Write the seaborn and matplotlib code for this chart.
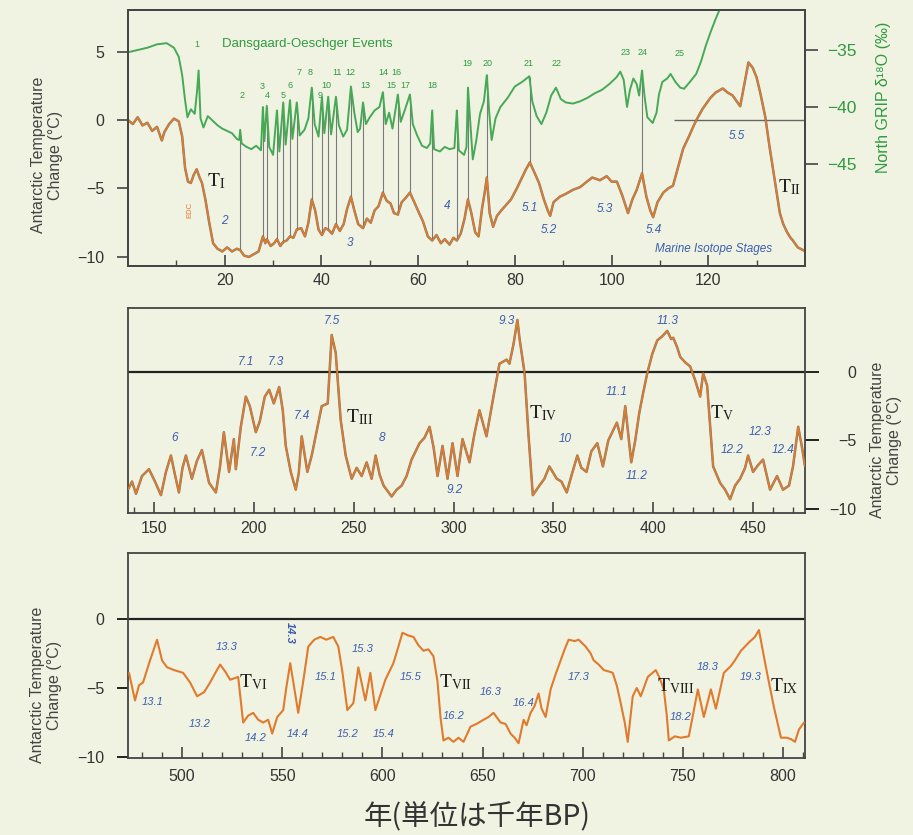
import matplotlib
matplotlib.use("Agg")
import matplotlib.pyplot as plt
from matplotlib.ticker import MultipleLocator, FixedLocator
import pandas as pd
import seaborn as sns

# ---------------- data ----------------
# Panel 1: EPICA Antarctic temperature (0-140 kyr BP)
p1_age = [0, 1, 2, 3, 4, 5, 6, 7, 7.5, 8.5, 9.5, 10.5, 11.2, 11.8, 12.4, 13.0, 13.6, 14.2, 14.8, 15.3,
          16.0, 16.8, 17.6, 18.5, 19.5, 20.5, 21.5, 22.5, 23.2, 24.0, 25.0, 26.0, 27.0, 27.9, 28.4, 28.7,
          29.5, 30.2, 30.8, 31.5, 32.1, 32.8, 33.5, 34.2, 34.9, 35.8, 36.6, 37.3, 38.0, 38.7, 39.4, 40.1,
          40.8, 41.4, 42.2, 43.0, 43.8, 44.6, 45.3, 46.1, 46.8, 47.6, 48.6, 49.4, 50.2, 51.0, 51.8, 52.7,
          53.5, 54.3, 55.0, 55.8, 56.6, 57.4, 58.3, 59.2, 60.2, 61.0, 62.0, 62.9, 63.8, 64.7, 65.5, 66.5,
          67.3, 68.0, 68.8, 69.6, 70.3, 71.0, 71.8, 72.5, 73.2, 73.8, 74.2, 74.8, 75.5, 76.3, 77.2, 78.2,
          79.2, 80.4, 81.5, 82.3, 83.1, 84.0, 85.0, 86.0, 86.8, 87.3, 88.0, 89.3, 90.5, 92.0, 93.5, 94.9,
          96.0, 97.6, 99.0, 100.0, 101.1, 102.2, 103.4, 104.3, 105.2, 106.3, 107.2, 108.0, 108.6, 109.5,
          110.7, 111.7, 112.7, 113.8, 114.8, 116.0, 117.0, 117.7, 118.8, 120.4, 121.5, 123.0, 124.0, 125.0,
          126.0, 126.6, 127.4, 128.3, 129.2, 130.0, 130.8, 131.8, 132.6, 133.4, 134.1, 134.8, 135.5, 136.3,
          137.0, 137.5, 138.5, 139.6, 140.0]
p1_temp = [0.0, -0.3, 0.2, -0.4, -0.2, -0.8, -0.5, -1.5, -0.9, -0.3, 0.1, -0.1, -1.2, -3.5, -4.5, -4.6,
           -4.0, -3.6, -4.2, -4.6, -5.8, -7.5, -9.0, -9.4, -9.6, -9.3, -9.6, -9.4, -9.5, -9.9, -10.0, -9.8,
           -9.6, -8.5, -9.0, -8.7, -9.2, -9.0, -8.7, -9.2, -8.9, -8.8, -8.5, -8.6, -8.0, -7.9, -8.5, -7.5,
           -5.8, -6.6, -8.0, -8.4, -7.9, -8.0, -8.3, -7.6, -8.1, -7.6, -6.5, -5.6, -6.6, -7.6, -7.9, -7.2,
           -7.5, -6.6, -6.3, -5.3, -5.9, -6.1, -6.8, -6.9, -6.0, -5.7, -5.3, -6.0, -6.8, -7.4, -8.5, -8.8,
           -8.4, -9.0, -8.7, -9.1, -8.6, -8.8, -8.3, -7.2, -5.8, -6.8, -8.2, -8.5, -6.5, -5.2, -4.2, -6.8,
           -7.8, -7.0, -6.6, -6.2, -5.8, -5.0, -4.2, -3.6, -3.1, -3.8, -4.6, -5.8, -6.6, -7.0, -6.0, -5.6,
           -5.4, -5.1, -4.9, -4.5, -4.2, -4.4, -4.1, -4.5, -4.5, -5.5, -6.8, -5.8, -5.1, -3.9, -5.6, -6.6,
           -7.1, -6.0, -5.3, -5.0, -4.8, -3.4, -2.1, -1.2, -0.4, 0.1, 0.8, 1.6, 2.0, 2.3, 2.0, 1.8, 1.3,
           1.0, 2.5, 4.2, 3.8, 3.1, 1.9, 0.2, -1.8, -3.6, -5.2, -6.8, -7.6, -8.2, -8.6, -8.8, -9.3, -9.5,
           -9.6]

# NorthGRIP d18O (permil)
grip_age = [0, 2, 4, 6, 8, 9.5, 10.5, 11.2, 11.8, 12.3, 13.0, 13.8, 14.3, 14.6, 15.0, 15.6, 16.5, 17.5,
            18.5, 19.5, 20.5, 21.5, 22.5, 23.0, 23.2, 23.5, 24.5, 25.5, 26.5, 27.5, 27.9, 28.2, 28.7, 29.2,
            30.0, 30.8, 31.3, 32.1, 32.6, 33.5, 34.0, 34.9, 35.5, 36.5, 37.3, 38.0, 38.6, 39.4, 40.1, 40.6,
            41.4, 42.0, 43.0, 43.6, 44.5, 45.3, 46.1, 46.8, 47.5, 48.0, 48.6, 49.2, 50.0, 51.0, 52.0, 52.7,
            53.3, 54.0, 54.7, 55.8, 56.4, 57.3, 58.3, 58.9, 59.8, 60.8, 61.8, 62.5, 62.9, 63.3, 64.5, 65.5,
            66.5, 67.5, 68.0, 68.4, 69.5, 70.0, 70.3, 70.8, 71.3, 72.0, 72.8, 73.6, 74.2, 74.7, 75.2, 76.0,
            77.0, 78.5, 80.0, 81.5, 83.0, 83.6, 84.5, 85.5, 86.5, 87.5, 88.5, 89.5, 90.5, 92.0, 93.5, 95.0,
            96.5, 98.0, 99.5, 101.0, 101.8, 102.5, 103.2, 103.8, 104.5, 105.2, 105.7, 106.3, 106.8, 107.4,
            108.5, 109.3, 109.8, 110.5, 111.5, 112.2, 113.2, 114.2, 115.0, 116.2, 117.5, 118.5, 119.5, 120.5,
            121.5, 122.2]
grip_d18o = [-35.2, -35.0, -34.8, -34.5, -34.4, -34.8, -35.6, -37.2, -39.4, -40.9, -40.2, -40.6, -38.5,
             -36.8, -41.0, -41.8, -40.8, -41.2, -41.6, -41.9, -42.1, -42.3, -42.8, -42.9, -42.0, -43.2,
             -43.5, -43.7, -43.4, -43.8, -40.0, -43.0, -39.9, -43.5, -44.2, -40.3, -43.9, -39.6, -43.3,
             -39.4, -42.8, -39.6, -42.5, -42.0, -41.0, -38.3, -41.5, -42.6, -39.1, -42.3, -39.1, -42.4,
             -39.1, -41.6, -42.6, -42.0, -38.2, -40.5, -42.2, -41.9, -39.6, -41.5, -40.9, -40.3, -40.0,
             -38.7, -41.5, -40.5, -41.9, -38.9, -41.3, -40.2, -38.9, -41.5, -42.5, -43.4, -43.6, -43.2,
             -40.3, -43.7, -43.9, -43.5, -43.7, -43.6, -40.3, -43.8, -44.2, -43.5, -38.3, -41.5, -44.6,
             -43.0, -40.6, -39.5, -37.2, -40.5, -42.9, -41.0, -40.0, -39.2, -38.2, -37.8, -37.3, -39.5,
             -40.8, -41.5, -40.5, -39.0, -38.3, -39.3, -39.6, -39.7, -39.5, -39.2, -38.8, -38.5, -38.0,
             -37.4, -36.9, -37.6, -40.0, -38.5, -37.5, -38.0, -39.0, -36.8, -39.0, -40.9, -41.4, -40.5,
             -38.9, -37.8, -37.5, -37.1, -37.8, -38.3, -38.4, -37.8, -37.1, -36.0, -34.6, -33.4, -32.3,
             -31.6]

# Dansgaard-Oeschger connector lines (age, top and bottom in degC axis units)
do_age = [23.2, 27.9, 28.7, 30.8, 32.1, 33.5, 34.9, 38.0, 40.1, 41.4, 43.0, 46.1, 48.6, 52.7, 55.8,
          58.3, 62.9, 68.0, 70.3, 74.2, 83.1, 106.3]
do_top = [-1.24, 0.95, 0.95, 0.73, 1.24, 1.46, 1.24, 2.34, 1.68, 1.68, 1.68, 2.41, 1.24, 2.04, 1.82,
          1.82, 0.73, 0.73, 2.34, 3.28, 3.14, 3.65]
do_bottom = [-9.49, -8.54, -8.76, -8.76, -8.98, -8.54, -8.03, -5.84, -8.39, -8.03, -7.66, -5.62, -7.88,
             -5.33, -6.93, -5.33, -8.76, -8.76, -5.84, -4.16, -3.14, -3.87]
do_labels = ["1", "2", "3", "4", "5", "6", "7", "8", "9", "10", "11", "12", "13", "14", "16", "15", "17",
             "18", "19", "20", "21", "22", "23", "24", "25"]
do_label_age = [14.3, 23.6, 27.7, 28.9, 32.1, 33.5, 35.4, 37.6, 39.7, 41.1, 43.2, 45.9, 49.0, 52.7, 55.6,
                54.4, 57.3, 62.9, 70.1, 74.4, 82.9, 88.7, 102.8, 106.5, 114.1]
do_label_y = [5.5, 1.82, 2.41, 1.82, 1.82, 2.55, 3.50, 3.50, 1.82, 2.55, 3.50, 3.50, 2.55, 3.50, 3.50,
              2.55, 2.55, 2.55, 4.16, 4.16, 4.16, 4.16, 4.96, 4.96, 4.89]

mis1_labels = ["2", "3", "4", "5.1", "5.2", "5.3", "5.4", "5.5"]
mis1_age = [20.0, 46.0, 66.0, 83.0, 87.0, 98.6, 108.8, 126.0]
mis1_y = [-7.4, -9.0, -6.3, -6.4, -8.0, -6.5, -8.0, -1.2]

# Panel 2 (137-476 kyr BP)
p2_age = [137, 139, 141, 144, 147.5, 150.5, 153.5, 156, 158.5, 160.5, 162.5, 164.3, 166, 169, 171.5, 174,
          177.6, 181, 183, 185, 187.6, 190, 191, 193.5, 196, 198, 201, 203, 205.5, 207.7, 210, 212.7,
          214.5, 216, 218.5, 221, 222.5, 224, 226.8, 229, 231.5, 234, 237, 239, 241, 243.5, 246, 249,
          251.5, 254, 256.5, 259, 261, 263, 265, 269, 271.5, 274, 276.5, 279, 283, 285.5, 288, 290, 292,
          294.5, 297, 299.5, 302, 304.5, 308, 310.5, 313, 316.5, 320, 323, 326.6, 328, 330, 332, 333,
          335.6, 337.5, 339.7, 343, 345.5, 348, 351.7, 354, 356.7, 359, 362, 364, 366.6, 369, 372, 374.8,
          377.5, 379.5, 381.8, 384, 386, 389, 391, 393, 395, 397, 399.5, 402, 404.5, 407, 409, 410, 412,
          413.5, 416, 418.5, 421, 423.5, 425, 427, 428.5, 430, 433.5, 436, 438.5, 441, 443.5, 446, 447.5,
          450, 452.5, 455, 458.5, 462, 465, 468, 470, 472.6, 474.5, 476]
p2_temp = [-8.6, -8.0, -8.9, -7.6, -7.1, -8.0, -9.0, -7.3, -6.1, -7.5, -8.8, -7.0, -6.1, -7.8, -6.5, -5.7,
           -8.1, -8.8, -7.0, -4.4, -7.3, -4.9, -7.1, -4.0, -1.8, -2.5, -4.4, -3.6, -1.8, -1.3, -2.3, -1.1,
           -2.8, -5.4, -7.3, -8.6, -7.4, -4.7, -7.3, -6.1, -4.3, -2.5, -2.3, 2.7, 1.4, -3.5, -6.1, -7.8,
           -7.0, -7.6, -6.6, -7.8, -6.1, -7.5, -8.3, -9.1, -8.6, -8.3, -7.6, -6.4, -5.2, -4.8, -4.0, -5.5,
           -7.6, -5.4, -7.8, -5.2, -7.6, -4.9, -6.6, -4.5, -2.8, -4.7, -1.8, 0.6, 0.9, 0.6, 2.0, 3.8, 2.5,
           -0.1, -4.5, -9.0, -8.3, -7.8, -6.9, -7.8, -8.0, -8.8, -7.6, -6.1, -7.0, -7.3, -5.8, -5.2, -6.9,
           -5.0, -4.4, -3.7, -4.9, -2.5, -6.6, -5.0, -3.0, -1.5, -0.1, 1.3, 2.3, 2.6, 3.0, 2.4, 2.5, 1.8,
           1.1, 0.7, 0.4, -0.6, -1.8, -0.1, -1.0, -4.0, -6.9, -8.1, -8.6, -9.3, -8.3, -7.8, -7.0, -6.1,
           -7.3, -6.8, -6.4, -8.6, -7.6, -8.6, -8.3, -6.9, -4.0, -5.5, -6.9]
mis2_labels = ["6", "7.1", "7.3", "7.2", "7.4", "7.5", "8", "9.2", "9.3", "10", "11.1", "11.2", "11.3",
               "12.2", "12.3", "12.4"]
mis2_age = [160.5, 196, 211, 202, 224, 239, 264.4, 300.5, 326.6, 355.7, 381.8, 391.8, 407.4, 439.5,
            453.6, 465]
mis2_y = [-4.8, 0.7, 0.7, -5.9, -3.2, 3.7, -4.8, -8.6, 3.7, -4.9, -1.5, -7.6, 3.7, -5.7, -4.4, -5.7]

# Panel 3 (473-811 kyr BP)
p3_age = [473.5, 476.5, 478.5, 480.5, 484, 487.5, 490, 492.5, 496, 500.5, 504, 507.5, 511, 514, 517, 519,
          521.5, 524, 526, 528, 530.5, 533, 535.5, 538, 540.5, 543, 545, 547.5, 550.5, 552, 554, 556, 558,
          560.5, 563, 566, 569, 572, 575.5, 578, 580, 582.5, 585.5, 588, 591.5, 594, 596.5, 599, 601.5,
          605.5, 608, 610, 613, 615.5, 618, 620.5, 623, 625.5, 627.5, 629, 630.5, 633, 635.5, 638, 640.5,
          644, 647, 650.5, 653, 655.5, 659, 661.5, 664, 666, 668, 670.5, 672, 674, 676, 678, 679.5, 681.5,
          684, 686.5, 689, 691, 693, 696, 698, 701.5, 704, 705.5, 708, 710.5, 713, 715, 717, 719, 721,
          722.5, 725, 727, 729, 732.5, 736.5, 738.5, 740.5, 742, 743, 746, 749, 753, 755, 757.5, 760.5,
          764, 766.5, 770.5, 774, 776, 779, 783, 786, 788, 791.5, 795.5, 799, 802, 804, 806, 808, 810.5]
p3_temp = [-3.9, -5.9, -4.8, -4.6, -3.0, -1.5, -3.0, -3.5, -3.7, -3.9, -4.6, -5.6, -5.3, -4.6, -3.8, -3.3,
           -3.8, -4.4, -4.3, -4.2, -7.5, -7.0, -6.8, -7.3, -7.5, -7.3, -8.3, -7.1, -6.6, -5.0, -3.2, -5.0,
           -6.8, -4.5, -2.0, -1.5, -1.3, -1.5, -1.3, -2.0, -3.8, -6.6, -6.1, -3.5, -5.9, -3.9, -6.6, -5.5,
           -4.4, -3.2, -2.0, -1.0, -1.2, -1.3, -1.9, -2.3, -2.2, -2.7, -4.5, -7.1, -8.8, -8.6, -8.9, -8.6,
           -8.9, -7.8, -7.6, -7.3, -7.1, -6.8, -7.5, -7.6, -8.3, -8.6, -9.0, -7.3, -7.7, -6.8, -6.3, -5.4,
           -6.5, -7.1, -5.1, -4.0, -3.0, -2.2, -1.5, -1.6, -1.5, -2.0, -2.5, -3.0, -3.3, -3.7, -3.8, -3.9,
           -4.8, -6.1, -7.5, -8.9, -5.6, -5.0, -5.6, -4.2, -3.7, -4.3, -5.1, -7.0, -8.8, -8.5, -8.6, -8.5,
           -7.0, -5.1, -7.1, -5.1, -6.5, -3.9, -3.4, -3.0, -2.3, -1.7, -1.3, -0.8, -3.5, -6.4, -8.6, -8.6,
           -8.7, -8.9, -8.0, -7.5]
mis3_labels = ["13.1", "13.3", "13.2", "14.2", "14.4", "15.1", "15.3", "15.2", "15.4", "15.5", "16.2",
               "16.3", "16.4", "17.3", "18.3", "18.2", "19.3"]
mis3_age = [485.5, 522.5, 509, 536.5, 557.5, 571.5, 590, 582.5, 600.5, 614, 635.5, 654, 670.5, 698,
            762.5, 749, 784]
mis3_y = [-6.0, -2.0, -7.6, -8.6, -8.3, -4.2, -2.2, -8.3, -8.3, -4.2, -7.0, -5.3, -6.1, -4.2, -3.5,
          -7.1, -4.2]

term_labels = ["I", "II", "III", "IV", "V", "VI", "VII", "VIII", "IX"]
term_panel = [0, 0, 1, 1, 1, 2, 2, 2, 2]
term_age = [18.3, 136.8, 253, 344.7, 434.5, 535.5, 636.5, 746.5, 800.5]
term_y = [-4.5, -4.9, -3.3, -3.0, -3.0, -4.6, -4.6, -4.9, -4.9]

# ---------------- style ----------------
sns.set_theme(style="ticks")
plt.rcParams['font.family'] = ['Liberation Sans', 'DejaVu Sans']
plt.rcParams['mathtext.fontset'] = 'stix'
BG = '#f1f3e2'
ORANGE = '#e07a2c'
DARK = '#55554d'
GREEN = '#46a956'
GTEXT = '#2f9a40'
BLUE = '#3a5db0'
TXT = '#333333'
SPINE = '#444444'

fig = plt.figure(figsize=(9.13, 8.35), dpi=100, facecolor=BG)
W, H = 913, 835


def add_ax(top, bottom):
    return fig.add_axes([128 / W, (H - bottom) / H, 677 / W, (bottom - top) / H], facecolor=BG)


ax1 = add_ax(10, 266)
ax2 = add_ax(308, 513)
ax3 = add_ax(553, 758)

for ax in (ax1, ax2, ax3):
    for s in ax.spines.values():
        s.set_color(SPINE)
        s.set_linewidth(1.3)
        s.set_visible(True)
    ax.tick_params(axis='x', which='major', direction='in', length=8, width=1.2, color=SPINE,
                   labelsize=11.5, labelcolor=TXT)
    ax.tick_params(axis='x', which='minor', direction='in', length=4, width=1.0, color=SPINE)

# ---- panel 1 ----
df1 = pd.DataFrame({'age': p1_age, 'temp': p1_temp})
ax1.vlines(do_age, do_bottom, do_top, color='#7a7a7a', lw=0.8, zorder=1)
sns.lineplot(data=df1, x='age', y='temp', ax=ax1, color=DARK, lw=1.8, alpha=0.75, sort=False,
             estimator=None, zorder=2)
sns.lineplot(data=df1, x='age', y='temp', ax=ax1, color=ORANGE, lw=1.2, sort=False, estimator=None, zorder=3)
ax1.hlines(0, 113, 140, color='#666666', lw=1.0, zorder=1)
ax1.set_xlim(0, 140)
ax1.set_ylim(-10.66, 8.03)
ax1.xaxis.set_major_locator(FixedLocator([20, 40, 60, 80, 100, 120]))
ax1.xaxis.set_minor_locator(FixedLocator([10, 30, 50, 70, 90, 110, 130]))
ax1.yaxis.set_major_locator(FixedLocator([5, 0, -5, -10]))
ax1.tick_params(axis='y', direction='out', length=8, width=1.2, color=SPINE, labelsize=11.5,
                labelcolor=TXT, pad=9)
ax1.tick_params(axis='x', which='major', pad=5)
ax1.set_xlabel('')
ax1.set_ylabel('')

ax1r = ax1.twinx()
dfg = pd.DataFrame({'age': grip_age, 'd18o': grip_d18o})
sns.lineplot(data=dfg, x='age', y='d18o', ax=ax1r, color=GREEN, lw=1.4, sort=False, estimator=None)
ax1r.set_ylim(-53.95, -31.49)
ax1r.set_xlim(0, 140)
ax1r.yaxis.set_major_locator(FixedLocator([-35, -40, -45]))
ax1r.tick_params(axis='y', direction='out', length=9, width=1.2, color=SPINE, labelsize=12.5,
                 labelcolor=GTEXT, pad=7)
ax1r.set_ylabel('')
ax1r.set_xlabel('')
for s in ax1r.spines.values():
    s.set_color(SPINE)
    s.set_linewidth(1.3)

ax1.text(19.4, 5.55, 'Dansgaard-Oeschger Events', color=GTEXT, fontsize=9.5, ha='left', va='center')
for lab, a, y in zip(do_labels, do_label_age, do_label_y):
    ax1.text(a, y, lab, color=GTEXT, fontsize=6.5, ha='center', va='center')
for lab, a, y in zip(mis1_labels, mis1_age, mis1_y):
    ax1.text(a, y, lab, color=BLUE, fontsize=8.5, style='italic', ha='center', va='center')
ax1.text(121, -9.4, 'Marine Isotope Stages', color=BLUE, fontsize=8.5, style='italic',
         ha='center', va='center')
ax1.text(12.8, -6.6, 'EDC', color=ORANGE, fontsize=5.5, rotation=90, ha='center', va='center')

# ---- panel 2 ----
df2 = pd.DataFrame({'age': p2_age, 'temp': p2_temp})
ax2.axhline(0, color='#222222', lw=1.6, zorder=1)
sns.lineplot(data=df2, x='age', y='temp', ax=ax2, color=DARK, lw=1.8, alpha=0.75, sort=False,
             estimator=None, zorder=2)
sns.lineplot(data=df2, x='age', y='temp', ax=ax2, color=ORANGE, lw=1.2, sort=False, estimator=None, zorder=3)
ax2.set_xlim(137, 476)
ax2.set_ylim(-10.3, 4.67)
ax2.xaxis.set_major_locator(MultipleLocator(50))
ax2.xaxis.set_minor_locator(MultipleLocator(10))
ax2.yaxis.tick_right()
ax2.yaxis.set_major_locator(FixedLocator([0, -5, -10]))
ax2.tick_params(axis='y', direction='out', length=10, width=1.4, color='#222222', labelsize=11.5,
                labelcolor=TXT, pad=27, left=False, right=True)
for t in ax2.get_yticklabels():
    t.set_horizontalalignment('right')
ax2.tick_params(axis='x', which='major', pad=6)
ax2.set_xlabel('')
ax2.set_ylabel('')
for lab, a, y in zip(mis2_labels, mis2_age, mis2_y):
    ax2.text(a, y, lab, color=BLUE, fontsize=8.5, style='italic', ha='center', va='center')

# ---- panel 3 ----
df3 = pd.DataFrame({'age': p3_age, 'temp': p3_temp})
ax3.axhline(0, color='#222222', lw=1.6, zorder=1)
sns.lineplot(data=df3, x='age', y='temp', ax=ax3, color=ORANGE, lw=1.5, sort=False, estimator=None, zorder=3)
ax3.set_xlim(473, 811)
ax3.set_ylim(-10.07, 4.78)
ax3.xaxis.set_major_locator(MultipleLocator(50))
ax3.xaxis.set_minor_locator(MultipleLocator(10))
ax3.yaxis.set_major_locator(FixedLocator([0, -5, -10]))
ax3.tick_params(axis='y', direction='out', length=8, width=1.4, color='#222222', labelsize=11.5,
                labelcolor=TXT, pad=9)
ax3.tick_params(axis='x', which='major', pad=8)
ax3.set_xlabel('')
ax3.set_ylabel('')
for lab, a, y in zip(mis3_labels, mis3_age, mis3_y):
    ax3.text(a, y, lab, color=BLUE, fontsize=8, style='italic', ha='center', va='center')
ax3.text(554, -1.0, '14.3', color=BLUE, fontsize=8, style='italic', fontweight='bold',
         rotation=-90, ha='center', va='center')

# termination labels
axes = [ax1, ax2, ax3]
for lab, p, a, y in zip(term_labels, term_panel, term_age, term_y):
    axes[p].text(a, y, r'$\mathrm{T_{%s}}$' % lab, color='#222222', fontsize=14, ha='center', va='center')

# axis titles
ylab = 'Antarctic Temperature\nChange (°C)'
fig.text(47 / W, (H - 155) / H, ylab, rotation=90, ha='center', va='center', fontsize=11.5,
         color='#444444', linespacing=1.1)
fig.text(46 / W, (H - 685) / H, ylab, rotation=90, ha='center', va='center', fontsize=11.5,
         color='#444444', linespacing=1.1)
fig.text(886 / W, (H - 440) / H, ylab, rotation=90, ha='center', va='center', fontsize=11.5,
         color='#444444', linespacing=1.1)
fig.text(883 / W, (H - 97) / H, 'North GRIP δ¹⁸O (‰)', rotation=90, ha='center', va='center',
         fontsize=11.5, color=GTEXT)
fig.text(477 / W, (H - 817) / H, '年(単位は千年BP)', ha='center', va='center', fontsize=20.5,
         color='#333333', family=['Noto Sans CJK JP', 'DejaVu Sans'])

fig.savefig('out.png', dpi=100, facecolor=BG)
